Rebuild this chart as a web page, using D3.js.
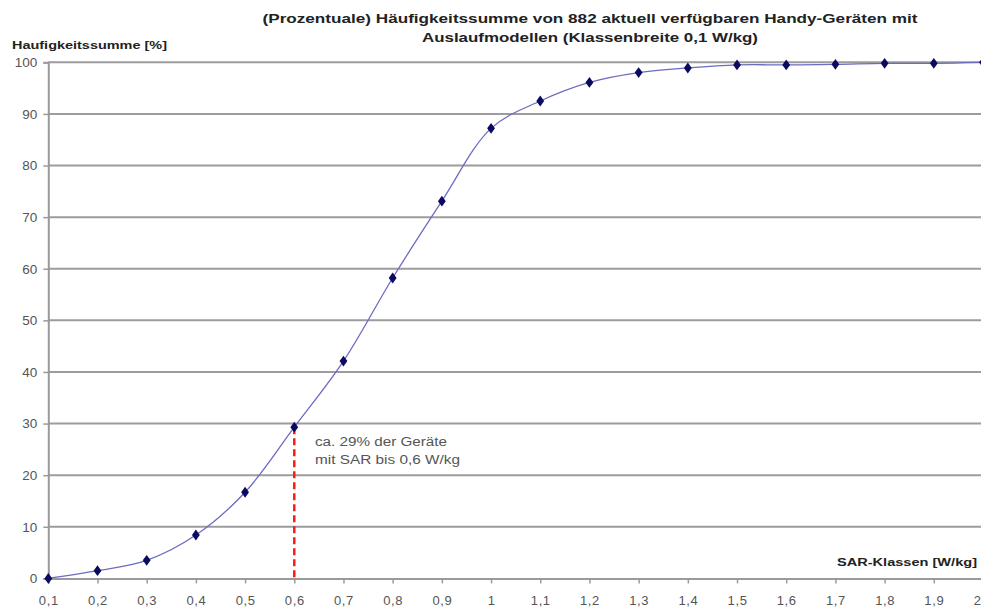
<!DOCTYPE html>
<html>
<head>
<meta charset="utf-8">
<script src="https://cdn.jsdelivr.net/npm/d3@7"></script>
<style>
  html, body { margin: 0; padding: 0; background: #fff; overflow: hidden; }
  svg { display: block; font-family: "Liberation Sans", Arial, sans-serif; }
</style>
</head>
<body>
<svg id="chart" width="981" height="610"></svg>
<script>
// ---- data ----
const categories = [0.1,0.2,0.3,0.4,0.5,0.6,0.7,0.8,0.9,1.0,1.1,1.2,1.3,1.4,1.5,1.6,1.7,1.8,1.9,2.0];
const cumulativePercent = [0,1.5,3.5,8.4,16.7,29.3,42.1,58.2,73.1,87.2,92.5,96.1,98.0,98.9,99.5,99.5,99.6,99.8,99.8,100];
const yTicks = [0,10,20,30,40,50,60,70,80,90,100];
const xTickLabels = ["0,1","0,2","0,3","0,4","0,5","0,6","0,7","0,8","0,9","1","1,1","1,2","1,3","1,4","1,5","1,6","1,7","1,8","1,9","2"];
const titleLines = ["(Prozentuale) Häufigkeitssumme von 882 aktuell verfügbaren Handy-Geräten mit",
                    "Auslaufmodellen (Klassenbreite 0,1 W/kg)"];
const yAxisTitle = "Haufigkeitssumme [%]";
const xAxisTitle = "SAR-Klassen [W/kg]";
const markerCategory = 0.6;
const annotationLines = ["ca. 29% der Geräte", "mit SAR bis 0,6 W/kg"];

// ---- layout ----
const svg = d3.select("#chart");
const plotLeft = 48.3, plotRight = 983, plotTop = 62.3, plotBottom = 578.4;

const x = d3.scalePoint().domain(categories).range([plotLeft, plotRight]);
const y = d3.scaleLinear().domain([0, 100]).range([plotBottom, plotTop]);

// gridlines
svg.append("g").selectAll("line").data(yTicks.filter(d => d > 0)).join("line")
  .attr("x1", plotLeft).attr("x2", 981)
  .attr("y1", d => y(d)).attr("y2", d => y(d))
  .attr("stroke", "#9c9c9c").attr("stroke-width", 2);

// y axis
const yAxis = svg.append("g").attr("transform", `translate(${plotLeft},0)`)
  .call(d3.axisLeft(y).tickValues(yTicks).tickSize(5).tickPadding(6));
yAxis.select(".domain").attr("stroke", "#9a9a9a").attr("stroke-width", 2);
yAxis.selectAll(".tick line").attr("stroke", "#9a9a9a").attr("stroke-width", 1.5);
yAxis.selectAll(".tick text").attr("fill", "#555").attr("font-size", 13.5)
  .attr("font-family", "Liberation Sans, Arial, sans-serif");

// x axis
const xAxis = svg.append("g").attr("transform", `translate(0,${plotBottom})`)
  .call(d3.axisBottom(x).tickSize(5).tickPadding(12).tickFormat((d, i) => xTickLabels[i]));
xAxis.select(".domain").attr("stroke", "#9a9a9a").attr("stroke-width", 2);
xAxis.selectAll(".tick line").attr("stroke", "#9a9a9a").attr("stroke-width", 1.5);
xAxis.selectAll(".tick text").attr("fill", "#555").attr("font-size", 13)
  .attr("letter-spacing", 0.6)
  .attr("font-family", "Liberation Sans, Arial, sans-serif")
  .filter((d, i, n) => i === n.length - 1).attr("text-anchor", "end").attr("dx", -2);

// red dashed reference line
const mi = categories.indexOf(markerCategory);
svg.append("line")
  .attr("x1", x(markerCategory)).attr("x2", x(markerCategory))
  .attr("y1", y(cumulativePercent[mi])).attr("y2", plotBottom)
  .attr("stroke", "#ff1a1a").attr("stroke-width", 2.5).attr("stroke-dasharray", "7,4");

// curve
const pts = categories.map((c, i) => [x(c), y(cumulativePercent[i])]);
svg.append("path")
  .attr("d", d3.line().curve(d3.curveCatmullRom.alpha(0.5))(pts))
  .attr("fill", "none").attr("stroke", "#6c6cc0").attr("stroke-width", 1.3);

// markers
svg.append("g").selectAll("path").data(pts).join("path")
  .attr("transform", d => `translate(${d[0]},${d[1]}) scale(1.25,1)`)
  .attr("d", d3.symbol().type(d3.symbolDiamond).size(34))
  .attr("fill", "#0a0a60");

// titles
svg.append("text").attr("x", 590).attr("y", 23).attr("text-anchor", "middle")
  .attr("font-weight", "bold").attr("font-size", 12.5).attr("fill", "#222")
  .attr("textLength", 655).attr("lengthAdjust", "spacingAndGlyphs").text(titleLines[0]);
svg.append("text").attr("x", 590).attr("y", 42).attr("text-anchor", "middle")
  .attr("font-weight", "bold").attr("font-size", 12.5).attr("fill", "#222")
  .attr("textLength", 336).attr("lengthAdjust", "spacingAndGlyphs").text(titleLines[1]);

svg.append("text").attr("x", 12).attr("y", 49)
  .attr("font-weight", "bold").attr("font-size", 11).attr("fill", "#222")
  .attr("textLength", 155).attr("lengthAdjust", "spacingAndGlyphs").text(yAxisTitle);

svg.append("text").attr("x", 837).attr("y", 566)
  .attr("font-weight", "bold").attr("font-size", 11).attr("fill", "#222")
  .attr("textLength", 140).attr("lengthAdjust", "spacingAndGlyphs").text(xAxisTitle);

// annotation
annotationLines.forEach((t, i) => {
  svg.append("text").attr("x", 315).attr("y", 446 + i * 18)
    .attr("font-size", 12).attr("fill", "#555")
    .attr("textLength", i === 0 ? 132 : 145).attr("lengthAdjust", "spacingAndGlyphs")
    .text(t);
});
</script>
</body>
</html>
